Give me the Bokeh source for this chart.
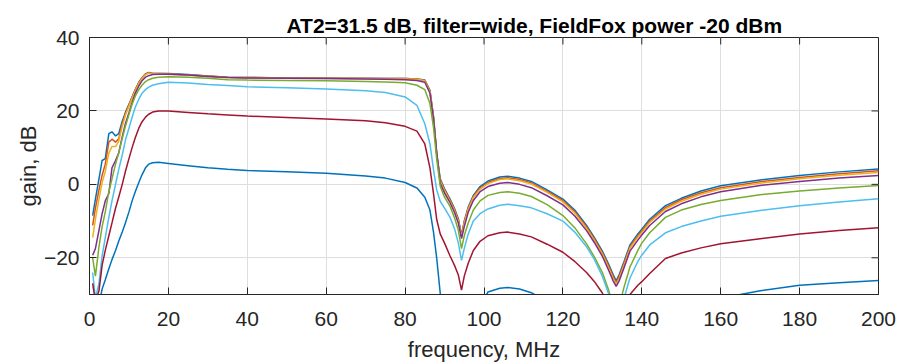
from bokeh.plotting import figure
from bokeh.models import FixedTicker, Range1d
from bokeh.embed import file_html
from bokeh.resources import INLINE

title_text = "AT2=31.5 dB, filter=wide, FieldFox power -20 dBm"
x_label = "frequency, MHz"
y_label = "gain, dB"
x_ticks = [0, 20, 40, 60, 80, 100, 120, 140, 160, 180, 200]
y_ticks = [-20, 0, 20, 40]

freq = [0.8, 1.5, 2.4, 3.2, 4.0, 4.9, 5.7, 6.6, 7.4, 8.3, 9.1, 10.0, 10.8, 11.6, 12.5, 13.3, 14.2, 15.0, 16.0, 17.5,
        20, 25, 30, 35, 40, 50, 60, 70, 75, 80, 83, 85, 86.3, 87.2, 88.0, 88.9, 90.0, 91.4, 92.5, 93.5,
        94.3, 95.0, 96.0, 97.3, 99, 101, 104, 106, 109, 112, 116, 120, 123, 126, 128, 130, 131.5, 132.7,
        133.5, 134.3, 135.5, 137, 139, 140, 142, 146, 150, 155, 160, 170, 180, 190, 200]

gain_1 = [-8.5, -4, 1.5, 6.5, 7.0, 13.8, 14.3, 13.2, 13.8, 17.2, 19.6, 21.8, 23.8, 25.8, 27.8, 29.0, 30.1, 30.5, 30.2, 30.2,
          30.2, 29.9, 29.5, 29.2, 29.1, 29.0, 28.9, 28.9, 28.8, 28.8, 28.7, 28.4, 25.6, 18.5, 8.5, 1.5, -1.2, -4, -6.5, -9.4,
          -13.8, -10, -6.2, -3, -0.6, 0.9, 2.0, 2.2, 1.7, 0.8, -1.5, -4, -7, -11.2, -14.5, -18.2, -21.5, -24.5,
          -26.3, -24.5, -21, -16.5, -13.5, -12.2, -9.5, -5.8, -3.8, -1.8, -0.4, 1.2, 2.4, 3.4, 4.2]

gain_2 = [-11.2, -6.5, -1.5, 2.5, 5.5, 11.5, 12.3, 11.5, 12.4, 16.5, 19.2, 21.6, 23.7, 25.7, 27.7, 29.0, 30.0, 30.4, 30.2, 30.2,
          30.1, 29.8, 29.5, 29.2, 29.1, 29.0, 28.9, 28.8, 28.8, 28.8, 28.7, 28.3, 25.4, 18.3, 8.3, 1.2, -1.5, -4.3, -6.8, -9.7,
          -14.1, -10.3, -6.5, -3.3, -1.0, 0.5, 1.6, 1.8, 1.3, 0.4, -1.9, -4.4, -7.4, -11.6, -14.9, -18.6, -22, -25,
          -26.8, -25, -21.5, -17, -14, -12.7, -10, -6.3, -4.2, -2.3, -0.9, 0.7, 1.9, 2.9, 3.7]

gain_3 = [-14.5, -9.5, -4, 0.5, 3.5, 8.5, 10.3, 10.3, 11.7, 15.8, 18.8, 21.3, 23.5, 25.5, 27.5, 28.8, 29.9, 30.3, 30.1, 30.1,
          30.0, 29.8, 29.4, 29.1, 29.0, 28.9, 28.8, 28.8, 28.7, 28.7, 28.6, 28.2, 25.2, 18.0, 8.0, 0.9, -1.8, -4.6, -7.1, -10,
          -14.4, -10.6, -6.8, -3.6, -1.3, 0.2, 1.3, 1.5, 1.0, 0.1, -2.2, -4.8, -7.8, -12, -15.3, -19, -22.5, -25.5,
          -27.2, -25.5, -22, -17.4, -14.4, -13.1, -10.4, -6.7, -4.6, -2.7, -1.3, 0.3, 1.5, 2.5, 3.2]

gain_4 = [-19.3, -17.5, -12.5, -8, -4.5, -2.5, 4.5, 6.5, 8.5, 13, 16.5, 19.5, 22.3, 24.8, 26.8, 28.2, 29.2, 29.6, 29.9, 30.0,
          30.0, 29.8, 29.4, 29.1, 29.0, 28.9, 28.8, 28.7, 28.6, 28.5, 28.3, 27.8, 24.8, 17.8, 8.8, 0.3, -2.4, -5.0, -7.6, -10.6,
          -14.8, -11.5, -7.6, -4.4, -2.0, -0.6, 0.3, 0.5, 0.0, -0.9, -3.1, -5.6, -8.6, -12.6, -15.9, -19.6, -23.2, -26.2,
          -27.8, -26.2, -22.7, -18.2, -15.2, -13.8, -11.2, -7.4, -5.3, -3.4, -2.0, -0.3, 0.8, 1.7, 2.4]

gain_5 = [-20, -25, -17, -11.5, -7.5, -2, 1.5, 5.5, 8.5, 12.5, 15.8, 19, 21.8, 24, 25.8, 27, 28, 28.5, 28.9, 29.2,
          29.3, 29.2, 28.9, 28.5, 28.4, 28.3, 28.2, 28.0, 27.9, 27.7, 27.0, 25.8, 22, 15.5, 7, -0.5, -3.5, -6.0, -9, -12.5,
          -17.5, -14, -10.5, -7, -4.5, -3.0, -2.2, -2.0, -2.4, -3.3, -5.5, -8.5, -11.8, -16.2, -19.8, -24, -28.5, -33,
          -36, -33, -28, -22.5, -18, -16, -13.2, -9.0, -7.0, -5.5, -4.4, -2.8, -1.8, -1.0, -0.3]

gain_6 = [-24, -31, -27, -19.5, -14.5, -9, -4.5, 0, 4, 8, 12, 15.3, 18.3, 21, 23.2, 24.8, 25.8, 26.5, 27.0, 27.4,
          27.8, 27.6, 27.2, 26.9, 26.6, 26.3, 26.0, 25.5, 25.0, 23.8, 21.5, 16.5, 11, 4, -1.5, -4.6, -6.5, -9, -12, -16,
          -20.7, -17.5, -13.5, -10, -8, -6.7, -5.7, -5.4, -5.8, -6.4, -8, -10, -13, -17, -20.5, -25, -29.5, -34,
          -37, -35, -31, -25.5, -21, -19.3, -16.5, -13.2, -11.5, -10, -8.7, -7.1, -5.8, -4.8, -3.9]

gain_7 = [-27, -32, -29, -22, -18, -14, -10.5, -6.5, -3.5, 0, 3.5, 7, 10, 12.7, 15.3, 17, 18.3, 19.1, 19.7, 20.0,
          20.0, 19.6, 19.2, 18.9, 18.6, 18.2, 17.8, 17.3, 16.8, 15.8, 14.5, 11, 4.5, -2.5, -9.5, -13.5, -16, -19.5, -22, -24.7,
          -28.8, -25, -21.5, -18, -15.5, -14, -13.2, -13, -13.5, -14.3, -16.3, -18.5, -21, -24, -26.5, -29.6, -33, -36,
          -38, -37, -34, -30, -27.5, -26.5, -24.3, -20.2, -18.7, -17.3, -16.2, -14.8, -13.5, -12.6, -11.8]

gain_8 = [-33, -35, -33, -28.5, -26, -23, -20.5, -18, -15.5, -13, -10.5, -7.5, -4.5, -2, 0.5, 2.6, 4.5, 5.5, 5.9, 6.0,
          5.7, 5.1, 4.5, 4.1, 3.8, 3.4, 3.0, 2.3, 1.7, 0.5, -1, -3.5, -7, -13, -20, -29.6, -38, -42, -44, -45,
          -45, -44, -42, -39, -34, -29.3, -28.3, -28.1, -28.5, -29.5, -32, -35, -38, -42, -45, -48, -50, -52,
          -53, -52, -50, -47, -44, -42, -40, -36, -34, -32.5, -31, -29, -27.5, -26.8, -26.2]

series = [gain_1, gain_2, gain_3, gain_4, gain_5, gain_6, gain_7, gain_8]
colors = ["#0072BD", "#D95319", "#EDB120", "#7E2F8E", "#77AC30", "#4DBEEE", "#A2142F", "#0072BD"]

FONT = "Liberation Sans"
INK = "#262626"
X0, X1, Y0, Y1 = 0, 200, -30, 40

p = figure(width=911, height=364, x_range=Range1d(X0, X1), y_range=Range1d(Y0, Y1),
           output_backend="svg", toolbar_location=None,
           min_border_left=89, min_border_right=33, min_border_top=37, min_border_bottom=69)
p.outline_line_color = INK
p.outline_line_width = 1
p.background_fill_color = "white"
p.border_fill_color = "white"

p.title.text = title_text
p.title.align = "left"
p.title.offset = 197
p.title.text_font = FONT
p.title.text_font_size = "21px"
p.title.text_font_style = "bold"
p.title.text_color = "#000000"
p.title.standoff = 2

for ys, c in zip(series, colors):
    p.line(freq, ys, line_color=c, line_width=1.5)

for ax in (p.xaxis, p.yaxis):
    ax.axis_line_color = INK
    ax.major_tick_line_color = INK
    ax.major_tick_in = 7
    ax.major_tick_out = 0
    ax.minor_tick_line_color = None
    ax.major_label_text_font = FONT
    ax.major_label_text_font_size = "21px"
    ax.major_label_text_color = INK
    ax.axis_label_text_font = FONT
    ax.axis_label_text_font_size = "22px"
    ax.axis_label_text_font_style = "normal"
    ax.axis_label_text_color = INK

p.xaxis.ticker = FixedTicker(ticks=x_ticks)
p.yaxis.ticker = FixedTicker(ticks=y_ticks)
p.xaxis.axis_label = x_label
p.yaxis.axis_label = y_label
p.xaxis.major_label_standoff = 17
p.yaxis.major_label_standoff = 10
p.xaxis.axis_label_standoff = 8
p.yaxis.axis_label_standoff = 0

p.xgrid.ticker = FixedTicker(ticks=x_ticks)
p.ygrid.ticker = FixedTicker(ticks=y_ticks)
p.xgrid.grid_line_color = "#dedede"
p.ygrid.grid_line_color = "#dedede"

# inward tick marks on the top and right edges of the box (7 px long)
tick_len_y = 7 * (Y1 - Y0) / 258.0
tick_len_x = 7 * (X1 - X0) / 789.0
p.segment(x0=x_ticks, y0=[Y1] * len(x_ticks), x1=x_ticks, y1=[Y1 - tick_len_y] * len(x_ticks),
          line_color=INK, line_width=1)
p.segment(x0=[X1] * len(y_ticks), y0=y_ticks, x1=[X1 - tick_len_x] * len(y_ticks), y1=y_ticks,
          line_color=INK, line_width=1)

open("out.html", "w").write(file_html(p, INLINE))
